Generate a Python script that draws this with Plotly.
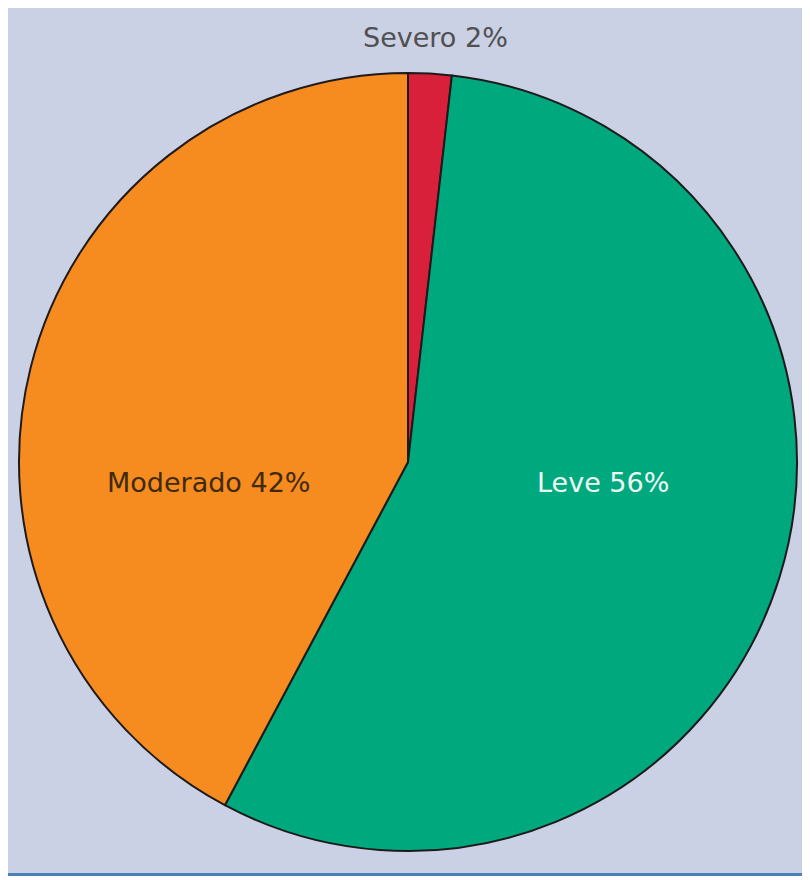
import plotly.graph_objects as go

labels = ["Severo", "Leve", "Moderado"]
values = [1.8, 56.0, 42.2]   # slice sizes
shown = [2, 56, 42]          # percentages printed on the chart
colors = ["#d8203a", "#00a87e", "#f68b1f"]

# page has an 8px body margin, so the figure is a bit smaller than the window
W, H = 802, 872
OFF = 8


def px(x, y):
    # window pixel -> paper coords
    return (x - OFF) / W, 1 - (y - OFF) / H


fig = go.Figure()
fig.add_trace(go.Pie(
    labels=labels,
    values=values,
    sort=False,
    direction="clockwise",
    rotation=0,
    marker=dict(colors=colors, line=dict(color="#1e1a1c", width=2)),
    textinfo="none",
    hoverinfo="label+percent",
    showlegend=False,
    domain=dict(x=[(19 - OFF) / W, (797 - OFF) / W],
                y=[1 - (851 - OFF) / H, 1 - (73 - OFF) / H]),
))

# label spots (window pixels) and text colours
spots = {"Severo": (435, 38, "#505050"),
         "Moderado": (208, 482, "#3f2a0c"),
         "Leve": (603, 482, "#eef8f3")}
for lab, v in zip(labels, shown):
    x, y, c = spots[lab]
    ax, ay = px(x, y)
    fig.add_annotation(x=ax, y=ay, xref="paper", yref="paper",
                       xanchor="center", yanchor="middle",
                       text=f"{lab} {v}%", showarrow=False,
                       font=dict(family="DejaVu Sans", size=27, color=c))

# background panel and bottom rule
fig.add_shape(type="rect", xref="paper", yref="paper", x0=-0.01, x1=1.01,
              y0=px(0, 873)[1], y1=1.01,
              fillcolor="#cbd1e4", line=dict(width=0), layer="below")
fig.add_shape(type="line", xref="paper", yref="paper", x0=-0.01, x1=1.01,
              y0=px(0, 874.5)[1], y1=px(0, 874.5)[1],
              line=dict(color="#4b80b9", width=3), layer="below")

fig.update_layout(width=W, height=H, margin=dict(l=0, r=0, t=0, b=0),
                  paper_bgcolor="white", plot_bgcolor="white")

fig.write_html("out.html")
